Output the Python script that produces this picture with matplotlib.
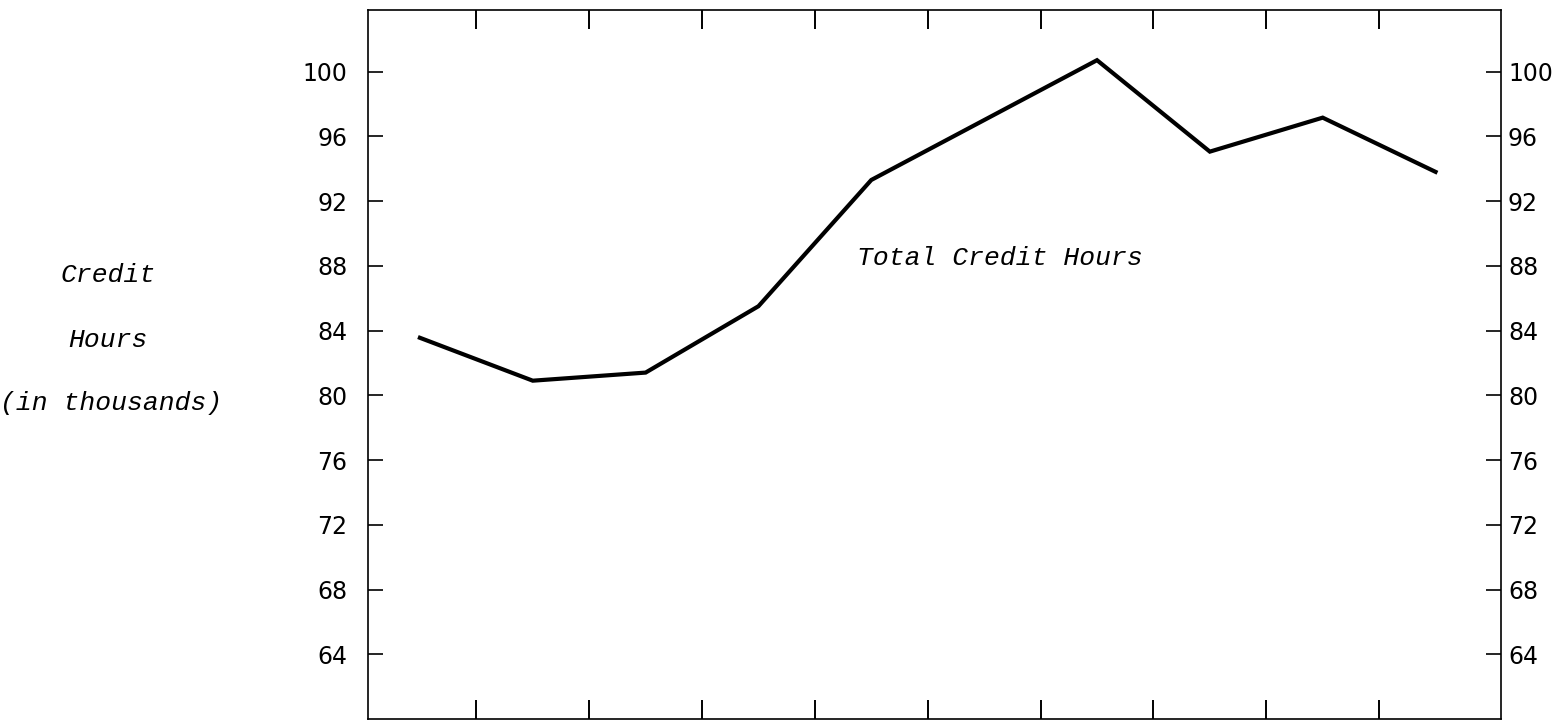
import matplotlib.pyplot as plt

# values (credit hours, thousands)
periods = list(range(10))
credit_hours = [83.55, 80.9, 81.4, 85.5, 93.3, 97.0, 100.7, 95.05, 97.15, 93.8]
y_ticks = [64, 68, 72, 76, 80, 84, 88, 92, 96, 100]
x_ticks = [0.5, 1.5, 2.5, 3.5, 4.5, 5.5, 6.5, 7.5, 8.5]

mono = 'Liberation Mono'

fig = plt.figure(figsize=(15.59, 7.21), dpi=100)
ax = fig.add_axes([368 / 1559, 2 / 721, (1501 - 368) / 1559, (719 - 10) / 721])

ax.plot(periods, credit_hours, color='black', linewidth=3.0, solid_joinstyle='miter')

ax.set_xlim(-0.46, 9.58)
ax.set_ylim(60, 103.8)

ax.set_yticks(y_ticks)
ax.set_xticks(x_ticks)
ax.set_xticklabels([])

for side in ['left', 'right', 'top', 'bottom']:
    ax.spines[side].set_linewidth(1.2)

ax.tick_params(axis='x', direction='in', length=14, width=1.4, top=True, bottom=True)
ax.tick_params(axis='y', direction='in', length=11, width=1.2, left=True, right=True,
               labelleft=True, labelright=True, labelsize=17)
for lbl in ax.get_yticklabels():
    lbl.set_fontfamily('DejaVu Sans')
# left labels sit further from the spine than the right ones
for t in ax.yaxis.get_major_ticks():
    t.set_pad(5)
    t.label1.set_x(-0.012)

ax.text(5.14, 88.5, 'Total Credit Hours', fontsize=19, fontfamily=mono,
        fontstyle='italic', ha='center', va='center')

fig.text(108 / 1559, 1 - 275 / 721, 'Credit', fontsize=19, fontfamily=mono,
         fontstyle='italic', ha='center', va='center')
fig.text(108 / 1559, 1 - 340 / 721, 'Hours', fontsize=19, fontfamily=mono,
         fontstyle='italic', ha='center', va='center')
fig.text(111 / 1559, 1 - 403 / 721, '(in thousands)', fontsize=19, fontfamily=mono,
         fontstyle='italic', ha='center', va='center')

fig.savefig('out.png', dpi=100)
